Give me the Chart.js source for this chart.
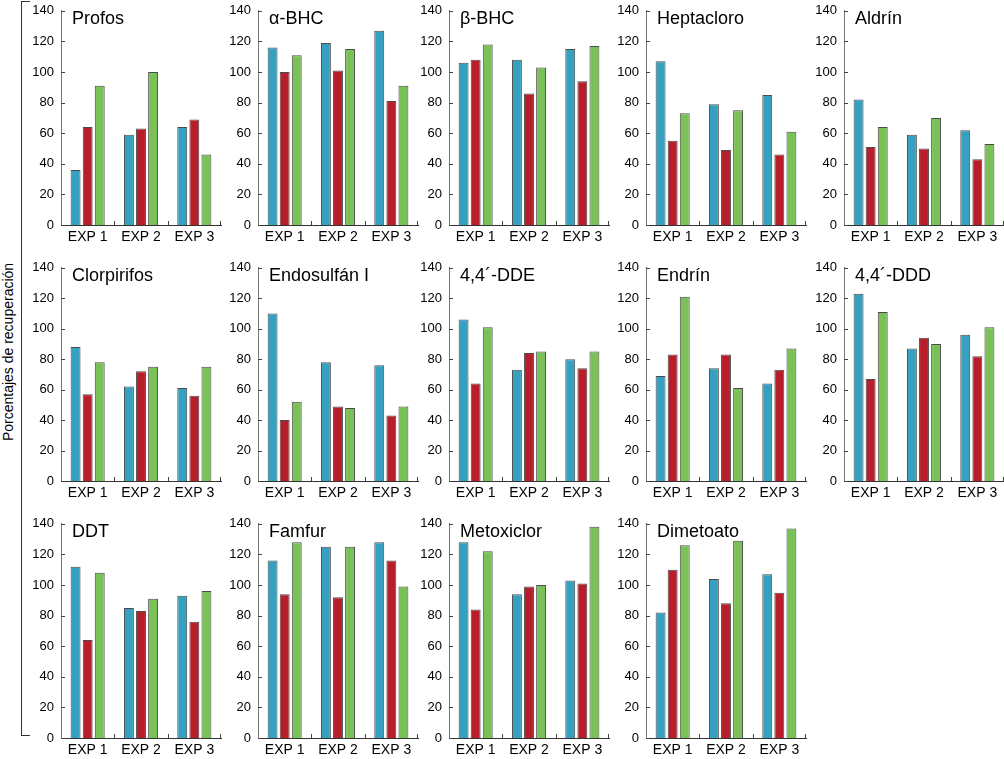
<!DOCTYPE html>
<html>
<head>
<meta charset="utf-8">
<script src="https://cdn.jsdelivr.net/npm/chart.js@4.4.0/dist/chart.umd.min.js"></script>
<style>
  body { margin: 0; background: #fff; }
  #wrap { position: relative; width: 1004px; height: 759px; overflow: hidden; font-family: "Liberation Sans", Arial, sans-serif; }
  #wrap canvas { position: absolute; }
  #ylabel { position: absolute; left: 8px; top: 352px; transform: translate(-50%, -50%) rotate(-90deg); white-space: nowrap; font-size: 14px; color: #000; }
  #bracket { position: absolute; left: 21px; top: 1px; width: 8px; height: 733px; border: 1px solid #333; border-right: none; }
</style>
</head>
<body>
<div id="wrap">
  <div id="bracket"></div>
  <div id="ylabel">Porcentajes de recuperación</div>
</div>
<script>
// Data
const categorias = ['EXP 1', 'EXP 2', 'EXP 3'];
const compuestos = ['Profos', 'α-BHC', 'β-BHC', 'Heptacloro', 'Aldrín',
    'Clorpirifos', 'Endosulfán I', '4,4´-DDE', 'Endrín', '4,4´-DDD',
    'DDT', 'Famfur', 'Metoxiclor', 'Dimetoato'];
const serieAzul = [
    [36, 59, 64], [116, 119, 127], [106, 108, 115], [107, 79, 85], [82, 59, 62],
    [88, 62, 61], [110, 78, 76], [106, 73, 80], [69, 74, 64], [123, 87, 96],
    [112, 85, 93], [116, 125, 128], [128, 94, 103], [82, 104, 107]
];
const serieRoja = [
    [64, 63, 69], [100, 101, 81], [108, 86, 94], [55, 49, 46], [51, 50, 43],
    [57, 72, 56], [40, 49, 43], [64, 84, 74], [83, 83, 73], [67, 94, 82],
    [64, 83, 76], [94, 92, 116], [84, 99, 101], [110, 88, 95]
];
const serieVerde = [
    [91, 100, 46], [111, 115, 91], [118, 103, 117], [73, 75, 61], [64, 70, 53],
    [78, 75, 75], [52, 48, 49], [101, 85, 85], [121, 61, 87], [111, 90, 101],
    [108, 91, 96], [128, 125, 99], [122, 100, 138], [126, 129, 137]
];
const yMin = 0, yMax = 140, yStep = 20;

// Panel layout (pixel positions of each plot area)
const colX = [61, 258, 449, 646, 844];
const rowTop = [8, 265, 521];
const rowBottom = [225, 481, 738];
const plotW = 160;
const padL = 50, padT = 12, padR = 3, padB = 24;

const FONT = '"Liberation Sans", Arial, sans-serif';
Chart.defaults.font.family = FONT;
Chart.defaults.color = '#000';

// draws the inward tick marks and the compound name
const panelDeco = {
    id: 'panelDeco',
    afterDraw(chart, args, opts) {
        const { ctx, chartArea: a, scales: { x, y } } = chart;
        ctx.save();
        ctx.strokeStyle = '#444';
        ctx.lineWidth = 1;
        ctx.beginPath();
        y.ticks.forEach((t, i) => {
            const py = Math.round(y.getPixelForTick(i)) + 0.5;
            ctx.moveTo(a.left, py);
            ctx.lineTo(a.left + 4, py);
        });
        for (let i = 1; i <= categorias.length; i++) {
            let px;
            if (i < categorias.length) {
                px = Math.round((x.getPixelForTick(i - 1) + x.getPixelForTick(i)) / 2) + 0.5;
            } else {
                px = Math.round(a.right) - 0.5;
            }
            ctx.moveTo(px, a.bottom);
            ctx.lineTo(px, a.bottom - 4);
        }
        ctx.stroke();
        ctx.fillStyle = '#000';
        ctx.font = '18px ' + FONT;
        ctx.textBaseline = 'alphabetic';
        ctx.textAlign = 'left';
        ctx.fillText(opts.text, a.left + 11, a.top + 13);
        ctx.restore();
    }
};

function makePanel(k) {
    const col = k % 5, row = Math.floor(k / 5);
    const ax = colX[col], top = rowTop[row], bottom = rowBottom[row];
    const canvas = document.createElement('canvas');
    canvas.width = padL + plotW + padR;
    canvas.height = padT + (bottom - top) + padB;
    canvas.style.left = (ax - padL) + 'px';
    canvas.style.top = (top - padT) + 'px';
    document.getElementById('wrap').appendChild(canvas);

    const bar = (data, color) => ({
        data: data,
        backgroundColor: color,
        borderColor: 'rgba(30,30,30,0.8)',
        borderWidth: 1,
        categoryPercentage: 0.68,
        barPercentage: 0.82
    });

    new Chart(canvas.getContext('2d'), {
        type: 'bar',
        data: {
            labels: categorias,
            datasets: [
                bar(serieAzul[k], '#36a0c1'),
                bar(serieRoja[k], '#b71e29'),
                bar(serieVerde[k], '#7ac257')
            ]
        },
        options: {
            responsive: false,
            animation: false,
            devicePixelRatio: 1,
            layout: { padding: { top: padT, right: padR, left: 0, bottom: 0 } },
            plugins: {
                legend: { display: false },
                tooltip: { enabled: false },
                panelDeco: { text: compuestos[k] }
            },
            scales: {
                x: {
                    grid: { display: false, drawTicks: false },
                    border: { display: true, color: '#333', width: 1 },
                    ticks: { font: { size: 14 }, padding: 4, maxRotation: 0, autoSkip: false },
                    afterFit(s) { s.height = padB; }
                },
                y: {
                    min: yMin,
                    max: yMax,
                    grid: { display: false, drawTicks: false },
                    border: { display: true, color: '#777', width: 1 },
                    ticks: { stepSize: yStep, font: { size: 13 }, padding: 7 },
                    afterFit(s) { s.width = padL; }
                }
            }
        },
        plugins: [panelDeco]
    });
}

compuestos.forEach((c, k) => makePanel(k));
</script>
</body>
</html>
